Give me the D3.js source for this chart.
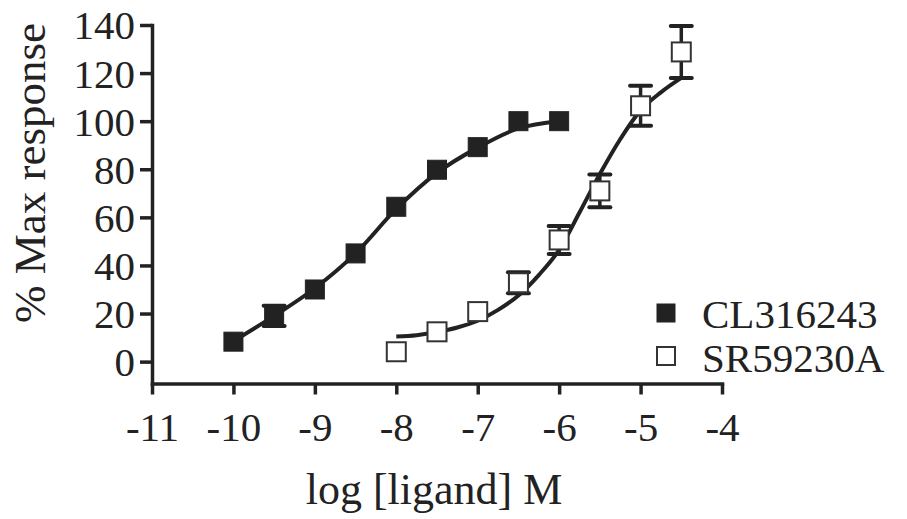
<!DOCTYPE html>
<html>
<head>
<meta charset="utf-8">
<script src="https://cdn.jsdelivr.net/npm/d3@7"></script>
<style>
  html, body { margin: 0; padding: 0; background: #fff; }
  svg { display: block; }
  text { font-family: "Liberation Serif", "Times New Roman", serif; fill: #222; }
</style>
</head>
<body>
<svg id="chart" width="907" height="519"></svg>
<script>
// Axis ticks
const xTicks = [-11, -10, -9, -8, -7, -6, -5, -4];
const yTicks = [0, 20, 40, 60, 80, 100, 120, 140];

// Series names
const seriesNames = ["CL316243", "SR59230A"];

// CL316243: log concentration, mean response, SEM (0 = bar hidden by symbol)
const clLog  = [-10, -9.5, -9, -8.5, -8, -7.5, -7, -6.5, -6];
const clMean = [8.3, 19, 30, 45, 64.4, 79.8, 89.2, 100, 100];
const clSem  = [0, 4.2, 0, 0, 0, 0, 0, 0, 0];

// CL316243 fitted curve samples
const clFitLog = [-10, -9.5, -9, -8.5, -8, -7.5, -7, -6.5, -6];
const clFit    = [8.5, 19, 30.5, 45, 63.5, 78.5, 89, 97, 100];

// SR59230A: log concentration, mean response, SEM
const srLog  = [-8, -7.5, -7, -6.5, -6, -5.5, -5, -4.5];
const srMean = [4.1, 12.4, 20.8, 32.8, 50.6, 71, 106.4, 128.8];
const srSem  = [0, 0, 0, 4.4, 5.8, 6.8, 8.3, 10.8];

// SR59230A fitted curve samples
const srFitLog = [-8, -7.75, -7.5, -7.25, -7, -6.75, -6.5, -6.25, -6, -5.75, -5.5, -5.25, -5, -4.75, -4.5];
const srFit    = [10.4, 11, 12.3, 14.2, 17, 21.5, 27.5, 36, 46.5, 62, 78, 92.5, 104.5, 112, 118];

const ink = "#222";
const svg = d3.select("#chart");

const x = d3.scaleLinear().domain([-11, -4]).range([152, 722]);
const y = d3.scaleLinear().domain([-9.1, 140]).range([383.5, 25]);

// Axes
const yAxis = svg.append("g")
  .attr("transform", `translate(${x(-11)},0)`)
  .call(d3.axisLeft(y).tickValues(yTicks).tickSize(12).tickSizeOuter(0).tickPadding(5));
const xAxis = svg.append("g")
  .attr("transform", `translate(0,${y(-9.1)})`)
  .call(d3.axisBottom(x).tickValues(xTicks).tickSize(11).tickSizeOuter(0).tickPadding(17)
        .tickFormat(d3.format("d")));

[yAxis, xAxis].forEach(g => {
  g.select(".domain").attr("stroke", ink).attr("stroke-width", 3.5).attr("stroke-linecap", "square");
  g.selectAll(".tick line").attr("stroke", ink).attr("stroke-width", 3.5);
  g.selectAll(".tick text")
    .attr("fill", ink)
    .style("font-family", '"Liberation Serif", "Times New Roman", serif')
    .style("font-size", "41px");
});
yAxis.selectAll(".tick text").attr("dy", "0.34em");
xAxis.selectAll(".tick text").attr("dy", "0.71em")
  .text(d => d < 0 ? "-" + Math.abs(d) : d);

// Axis titles
svg.append("text")
  .attr("transform", `translate(45,173) rotate(-90)`)
  .attr("text-anchor", "middle")
  .style("font-size", "45px")
  .text("% Max response");

svg.append("text")
  .attr("x", 434).attr("y", 504)
  .attr("text-anchor", "middle")
  .style("font-size", "44px")
  .text("log [ligand] M");

// Fitted curves
const line = d3.line()
  .x(d => x(d[0]))
  .y(d => y(d[1]))
  .curve(d3.curveMonotoneX);

svg.append("path")
  .datum(d3.zip(clFitLog, clFit))
  .attr("d", line)
  .attr("fill", "none").attr("stroke", ink).attr("stroke-width", 4);

svg.append("path")
  .datum(d3.zip(srFitLog, srFit))
  .attr("d", line)
  .attr("fill", "none").attr("stroke", ink).attr("stroke-width", 4);

// Error bars and symbols
const symSize = 19;
const capW = 21;

function drawSeries(logs, means, sems, filled) {
  const data = d3.zip(logs, means, sems);
  const g = svg.append("g");
  const eb = g.selectAll("g.err").data(data.filter(d => d[2] > 0)).join("g").attr("class", "err");
  eb.append("line")
    .attr("x1", d => x(d[0])).attr("x2", d => x(d[0]))
    .attr("y1", d => y(d[1] + d[2])).attr("y2", d => y(d[1] - d[2]))
    .attr("stroke", ink).attr("stroke-width", 3.5);
  eb.append("line")
    .attr("x1", d => x(d[0]) - capW / 2).attr("x2", d => x(d[0]) + capW / 2)
    .attr("y1", d => y(d[1] + d[2])).attr("y2", d => y(d[1] + d[2]))
    .attr("stroke", ink).attr("stroke-width", 4).attr("stroke-linecap", "round");
  eb.append("line")
    .attr("x1", d => x(d[0]) - capW / 2).attr("x2", d => x(d[0]) + capW / 2)
    .attr("y1", d => y(d[1] - d[2])).attr("y2", d => y(d[1] - d[2]))
    .attr("stroke", ink).attr("stroke-width", 4).attr("stroke-linecap", "round");
  g.selectAll("rect").data(data).join("rect")
    .attr("x", d => x(d[0]) - symSize / 2)
    .attr("y", d => y(d[1]) - symSize / 2)
    .attr("width", symSize).attr("height", symSize)
    .attr("fill", filled ? ink : "#fff")
    .attr("stroke", filled ? ink : "#333")
    .attr("stroke-width", filled ? 1 : 2);
}

drawSeries(clLog, clMean, clSem, true);
drawSeries(srLog, srMean, srSem, false);

// Legend
const legend = svg.append("g");
const legendRows = [
  { name: seriesNames[0], filled: true,  cy: 313, base: 328 },
  { name: seriesNames[1], filled: false, cy: 356, base: 372 }
];
legendRows.forEach(r => {
  legend.append("rect")
    .attr("x", 666 - 9).attr("y", r.cy - 9)
    .attr("width", 18).attr("height", 18)
    .attr("fill", r.filled ? ink : "#fff")
    .attr("stroke", r.filled ? ink : "#333")
    .attr("stroke-width", r.filled ? 1 : 2);
  legend.append("text")
    .attr("x", 702).attr("y", r.base)
    .style("font-size", "41px")
    .text(r.name);
});
</script>
</body>
</html>
